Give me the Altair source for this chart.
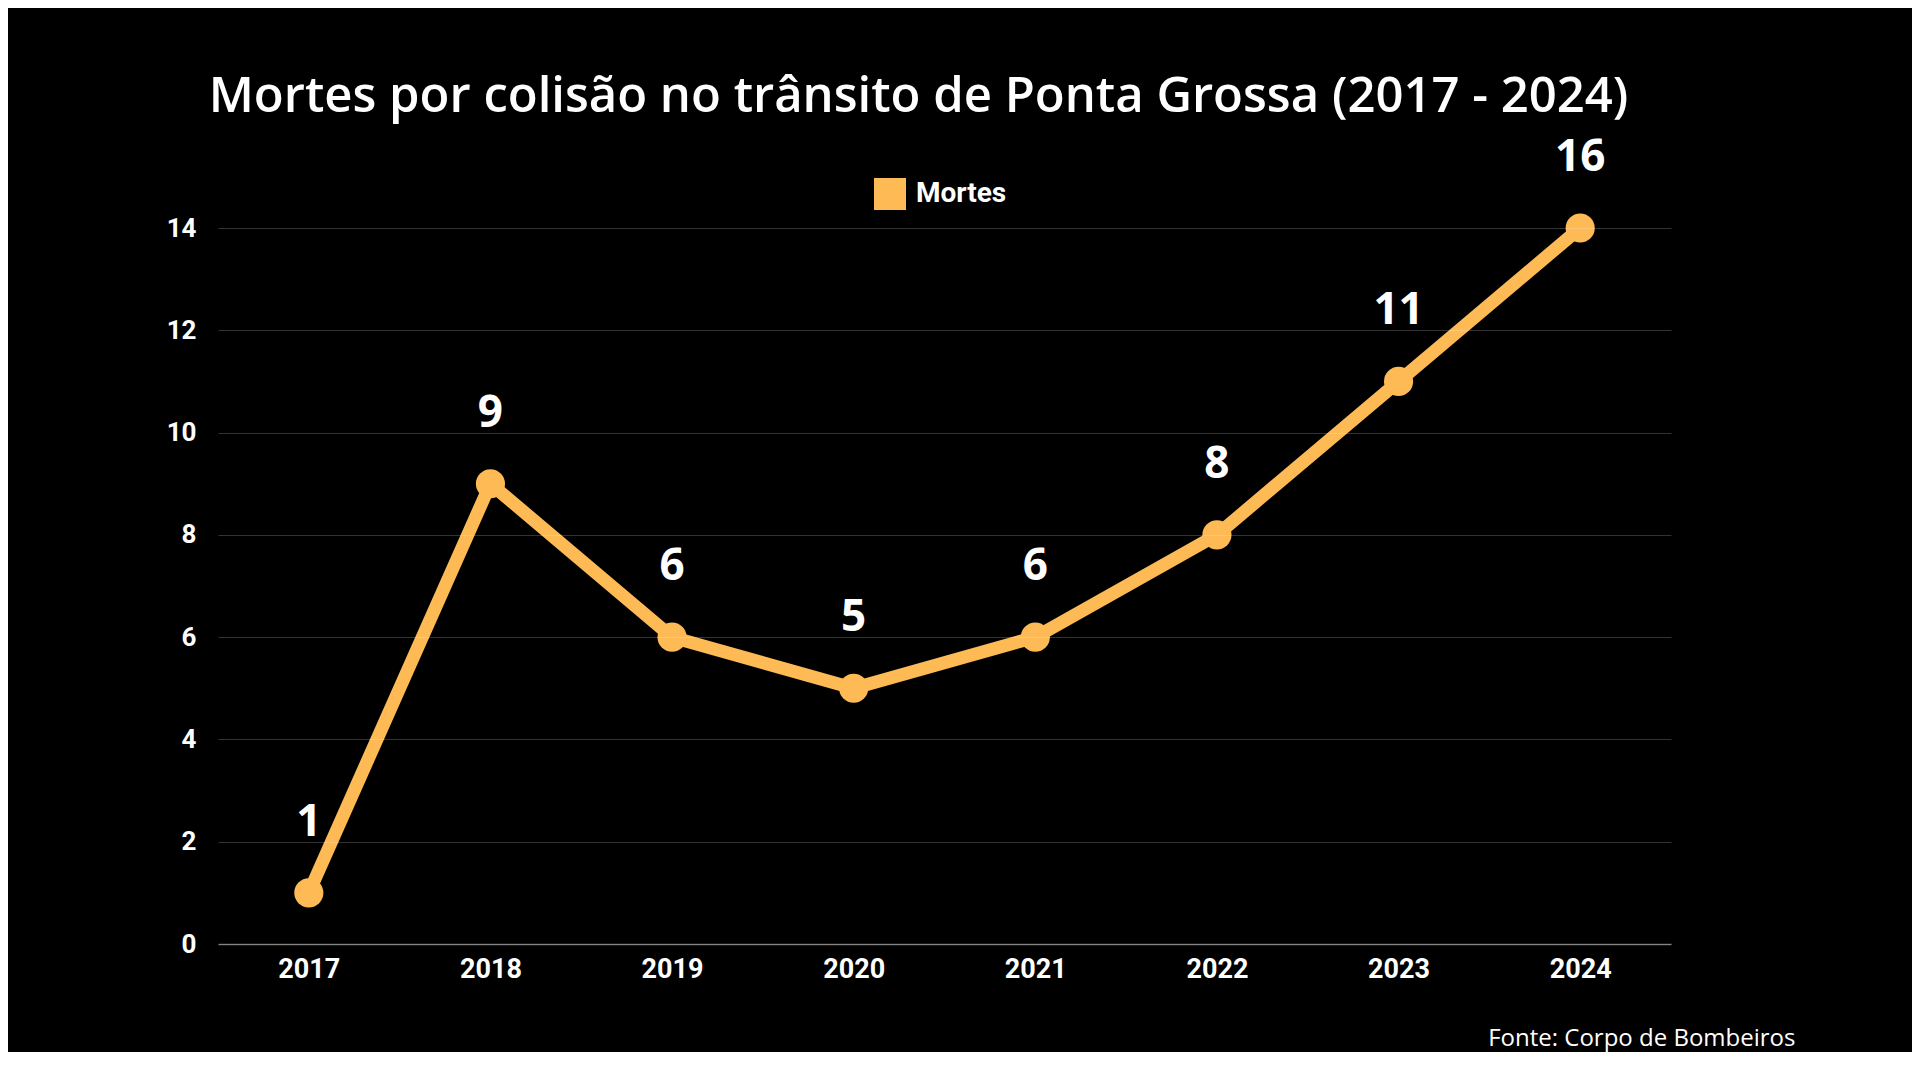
import altair as alt
import pandas as pd

years = ["2017", "2018", "2019", "2020", "2021", "2022", "2023", "2024"]
deaths = [1, 9, 6, 5, 6, 8, 11, 16]
series = ["Mortes"] * len(years)
y_ticks = [0, 2, 4, 6, 8, 10, 12, 14]

ORANGE = "#FDBA55"

df = pd.DataFrame({"ano": years, "mortes": deaths, "serie": series})

x_enc = alt.X("ano:O", scale=alt.Scale(type="point", padding=0.5),
              axis=alt.Axis(title="Fonte: Corpo de Bombeiros", labelAngle=0,
                            labelFont="Roboto", labelFontWeight="bold", labelFontSize=27,
                            labelColor="white", labelPadding=12, ticks=False,
                            domain=True, domainColor="#666666", domainWidth=1.5,
                            titleFont="Open Sans", titleFontWeight="normal", titleFontSize=24,
                            titleColor="white", titleAlign="right", titleBaseline="middle",
                            titleX=1577, titleY=94, titleAnchor="end", grid=False))
y_scale = alt.Scale(domain=[0, 14], clamp=True, nice=False)
y_enc = alt.Y("mortes:Q", scale=y_scale,
              axis=alt.Axis(title=None, values=y_ticks, labelFont="Roboto",
                            labelFontWeight="bold", labelFontSize=26, labelColor="white",
                            labelPadding=22, ticks=False, domain=False, grid=True,
                            gridColor="#ffffff", gridOpacity=0.2, gridWidth=1.2, zindex=1))

base = alt.Chart(df)

line = base.mark_line(color=ORANGE, strokeWidth=13).encode(x=x_enc, y=y_enc)
points = base.mark_circle(size=850, opacity=1).encode(
    x=x_enc, y=y_enc,
    color=alt.Color("serie:N", scale=alt.Scale(range=[ORANGE]),
                    legend=alt.Legend(title=None, orient="none", legendX=656, legendY=-50,
                                      symbolType="square", symbolSize=1024,
                                      symbolStrokeWidth=0, labelFont="Roboto",
                                      labelFontWeight="bold", labelFontSize=28,
                                      labelColor="white", labelOffset=10)))
labels = base.mark_text(font="Open Sans", fontWeight="bold", fontSize=44, color="white",
                        baseline="middle", dy=-70).encode(
    x=x_enc, y=y_enc, text="mortes:Q")

chart = alt.layer(line, points, labels).properties(
    width=1453, height=716,
    background="black",
    padding={"left": 210, "top": 220, "right": 241, "bottom": 108},
    autosize=alt.AutoSizeParams(type="none"),
    title=alt.TitleParams("Mortes por colisão no trânsito de Ponta Grossa (2017 - 2024)",
                          font="Open Sans", fontWeight=600, fontSize=49, color="white",
                          anchor="middle", frame="group", baseline="alphabetic",
                          offset=113, dx=-26, dy=138),
).configure_view(stroke=None)

chart.save("out.html", embed_options={"renderer": "svg", "actions": False})
